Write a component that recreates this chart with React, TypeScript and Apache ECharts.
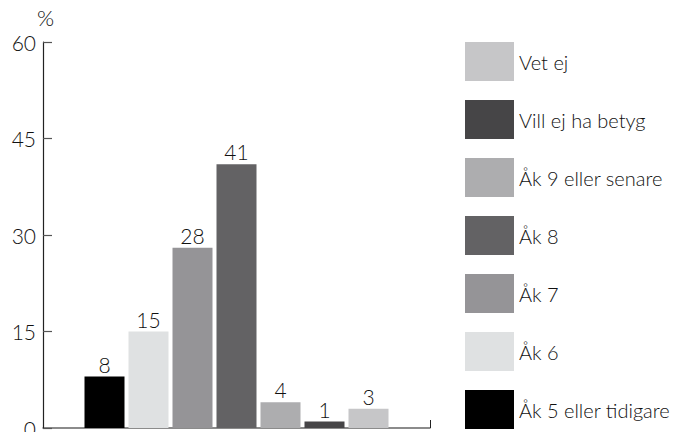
import React, { useEffect, useRef } from "react";
import * as echarts from "echarts";

const seriesNames = [
  "Åk 5 eller tidigare",
  "Åk 6",
  "Åk 7",
  "Åk 8",
  "Åk 9 eller senare",
  "Vill ej ha betyg",
  "Vet ej",
];
const seriesValues = [8, 15, 28, 41, 4, 1, 3];
const seriesColors = ["#000000", "#dfe1e2", "#959497", "#636264", "#adadaf", "#464547", "#c6c6c8"];
const categories = [""];
const yTicks = { min: 0, max: 60, interval: 15 };

const FONT = "Lato";

export default function App() {
  const ref = useRef<HTMLDivElement>(null);
  useEffect(() => {
    document.body.style.margin = "0";
    const chart = echarts.init(ref.current!, undefined, { renderer: "svg" });
    chart.setOption({
      animation: false,
      textStyle: { fontFamily: FONT },
      grid: { left: 43, right: 246, top: 42, bottom: 4, containLabel: false, outerBoundsMode: "none" },
      legend: {
        orient: "vertical",
        left: 465,
        top: 42,
        height: 400,
        padding: 0,
        itemWidth: 49,
        itemHeight: 39,
        itemGap: 19,
        icon: "rect",
        data: [...seriesNames].reverse(),
        textStyle: { fontFamily: FONT, fontSize: 20, fontWeight: 300, color: "#111", padding: [0, 0, 0, 0] },
        selectedMode: false,
      },
      xAxis: {
        type: "category",
        data: categories,
        axisLine: { lineStyle: { color: "#666", width: 1.5 } },
        axisTick: { show: true, inside: true, length: 8, lineStyle: { color: "#222" } },
        axisLabel: { show: false },
      },
      yAxis: {
        type: "value",
        min: yTicks.min,
        max: yTicks.max,
        interval: yTicks.interval,
        name: "%",
        nameLocation: "end",
        nameGap: 14,
        nameTextStyle: { fontFamily: FONT, fontSize: 22, fontWeight: 300, color: "#111", align: "left", padding: [0, 0, 0, -6] },
        splitLine: { show: false },
        axisLine: { show: true, lineStyle: { color: "#222", width: 1.2 } },
        axisTick: { show: true, inside: true, length: 9, lineStyle: { color: "#555", width: 1.2 } },
        axisLabel: { fontFamily: FONT, fontSize: 21, fontWeight: 300, color: "#111", margin: 7 },
      },
      series: seriesNames.map((name, i) => ({
        name,
        type: "bar",
        data: [seriesValues[i]],
        barWidth: 40,
        barGap: "10%",
        itemStyle: { color: seriesColors[i] },
        label: {
          show: true,
          position: "top",
          distance: 2,
          fontFamily: FONT,
          fontSize: 21,
          fontWeight: 300,
          color: "#111",
        },
      })),
    });
    return () => chart.dispose();
  }, []);
  return <div ref={ref} style={{ width: 676, height: 432 }} />;
}
